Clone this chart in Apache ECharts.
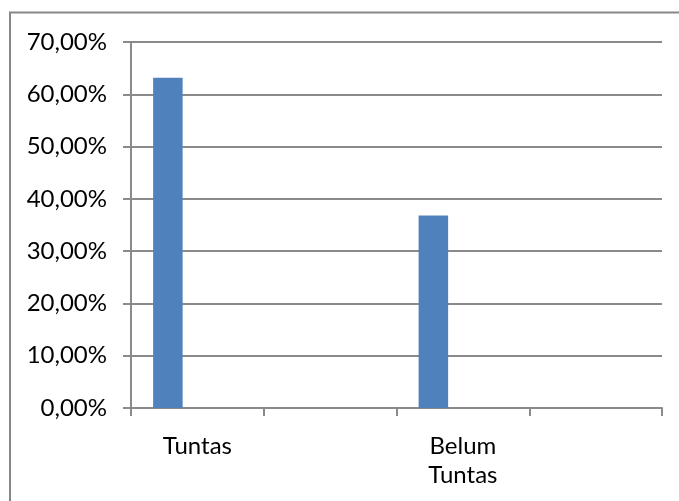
<!DOCTYPE html>
<html>
<head>
<meta charset="utf-8">
<script src="https://cdn.jsdelivr.net/npm/echarts@6/dist/echarts.min.js"></script>
<style>
  html, body { margin: 0; padding: 0; background: #ffffff; }
  #chart { width: 679px; height: 501px; }
</style>
</head>
<body>
<div id="chart"></div>
<script>
// Categories along the x axis (two of the slots are unlabeled)
const categories = ['Tuntas', '', 'Belum\nTuntas', ''];
// Percentage values of the first series; the other two series are empty
const seriesOne = [63.16, null, 36.84, null];
const seriesTwo = [];
const seriesThree = [];
// Y axis range and step (percent)
const yMin = 0;
const yMax = 70;
const yStep = 10;

const axisGray = '#8a8a8a';
const barColor = '#4f81bd';
const font = 'Lato, "Open Sans", sans-serif';

const chart = echarts.init(document.getElementById('chart'), null, { renderer: 'canvas' });

function barSeries(name, data) {
  return {
    name: name,
    type: 'bar',
    data: data,
    barWidth: 29.5,
    barGap: '0%',
    itemStyle: { color: barColor },
    silent: true
  };
}

chart.setOption({
  animation: false,
  backgroundColor: '#ffffff',
  graphic: [{
    type: 'rect',
    shape: { x: 10, y: 12.5, width: 720, height: 540 },
    style: { fill: 'none', stroke: '#878787', lineWidth: 2 },
    silent: true,
    z: -1
  }],
  grid: { left: 131, right: 17, top: 42, bottom: 93, containLabel: false },
  xAxis: {
    type: 'category',
    data: categories,
    boundaryGap: true,
    axisLine: { show: true, lineStyle: { color: axisGray, width: 2 } },
    axisTick: { show: true, alignWithLabel: false, length: 8, lineStyle: { color: axisGray, width: 2 } },
    axisLabel: {
      interval: 0,
      margin: 24,
      color: '#000000',
      fontFamily: font,
      fontSize: 24,
      lineHeight: 29,
      align: 'center'
    },
    splitLine: { show: false }
  },
  yAxis: {
    type: 'value',
    min: yMin,
    max: yMax,
    interval: yStep,
    axisLine: { show: true, lineStyle: { color: axisGray, width: 2 } },
    axisTick: { show: true, length: 8, lineStyle: { color: axisGray, width: 2 } },
    axisLabel: {
      margin: 24,
      color: '#000000',
      fontFamily: font,
      fontSize: 24,
      formatter: function (v) { return v.toFixed(2).replace('.', ',') + '%'; }
    },
    splitLine: { show: true, lineStyle: { color: axisGray, width: 2 } }
  },
  series: [
    barSeries('Series 1', seriesOne),
    barSeries('Series 2', seriesTwo),
    barSeries('Series 3', seriesThree)
  ]
});
</script>
</body>
</html>
